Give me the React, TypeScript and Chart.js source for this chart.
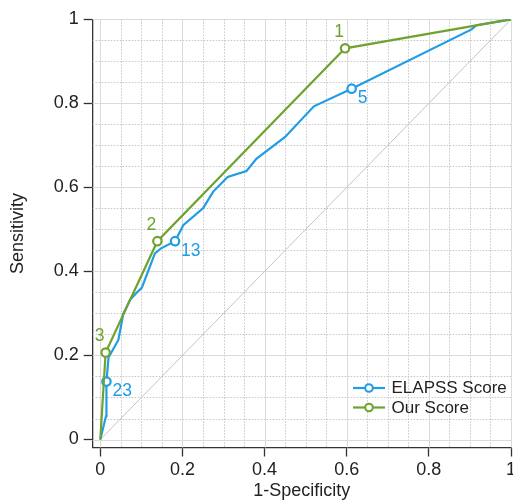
import { useEffect, useRef } from 'react';
import { Chart, registerables } from 'chart.js';

Chart.register(...registerables);

// ---- data ----
const seriesNames = ['ELAPSS Score', 'Our Score'];

const elapssX = [0, 0.014, 0.015, 0.02, 0.044, 0.056, 0.072, 0.089, 0.101, 0.133, 0.148, 0.182, 0.202, 0.25, 0.275, 0.31, 0.356, 0.38, 0.45, 0.52, 0.612, 0.904, 0.916, 1];
const elapssY = [0, 0.056, 0.138, 0.195, 0.237, 0.299, 0.332, 0.35, 0.361, 0.443, 0.455, 0.472, 0.51, 0.55, 0.59, 0.625, 0.639, 0.668, 0.72, 0.793, 0.835, 0.976, 0.986, 1];
const elapssLabels = ['', '', '23', '', '', '', '', '', '', '', '', '13', '', '', '', '', '', '', '', '', '5', '', '', ''];

const ourX = [0, 0.013, 0.139, 0.596, 1];
const ourY = [0, 0.207, 0.472, 0.931, 1];
const ourLabels = ['', '3', '2', '1', ''];

const refX = [0, 1];
const refY = [0, 1];

const tickValues = [0, 0.2, 0.4, 0.6, 0.8, 1];
const tickLabels = ['0', '0.2', '0.4', '0.6', '0.8', '1'];
const majorGrid = [0, 0.2, 0.4, 0.6, 0.8, 1];
const minorGrid = [0.05, 0.1, 0.15, 0.25, 0.3, 0.35, 0.45, 0.5, 0.55, 0.65, 0.7, 0.75, 0.85, 0.9, 0.95];

const BLUE = '#1f9de6';
const GREEN = '#6fa22e';
const FONT = "'Liberation Sans', Arial, Helvetica, sans-serif";

const toPts = (xs: number[], ys: number[]) => xs.map((x, i) => ({ x, y: ys[i] }));

const gridPlugin = {
  id: 'customGrid',
  beforeDatasetsDraw(chart: any) {
    const { ctx, chartArea, scales } = chart;
    const xs = scales.x;
    const ys = scales.y;
    ctx.save();
    ctx.lineWidth = 1;
    ctx.strokeStyle = '#c6c6c6';
    ctx.setLineDash([1.5, 1.5]);
    minorGrid.forEach((v) => {
      const px = Math.round(xs.getPixelForValue(v)) + 0.5;
      ctx.beginPath();
      ctx.moveTo(px, chartArea.top);
      ctx.lineTo(px, chartArea.bottom);
      ctx.stroke();
      const py = Math.round(ys.getPixelForValue(v)) + 0.5;
      ctx.beginPath();
      ctx.moveTo(chartArea.left, py);
      ctx.lineTo(chartArea.right, py);
      ctx.stroke();
    });
    ctx.setLineDash([]);
    ctx.strokeStyle = '#dadada';
    majorGrid.forEach((v) => {
      const px = Math.round(xs.getPixelForValue(v)) + 0.5;
      ctx.beginPath();
      ctx.moveTo(px, chartArea.top);
      ctx.lineTo(px, chartArea.bottom);
      ctx.stroke();
      const py = Math.round(ys.getPixelForValue(v)) + 0.5;
      ctx.beginPath();
      ctx.moveTo(chartArea.left, py);
      ctx.lineTo(chartArea.right, py);
      ctx.stroke();
    });
    ctx.restore();
  },
};

const labelPlugin = {
  id: 'pointLabels',
  afterDatasetsDraw(chart: any) {
    const { ctx } = chart;
    ctx.save();
    ctx.font = `17.5px ${FONT}`;
    ctx.textBaseline = 'middle';
    const metaOur = chart.getDatasetMeta(0);
    metaOur.data.forEach((el: any, i: number) => {
      const t = ourLabels[i];
      if (!t) return;
      ctx.fillStyle = GREEN;
      ctx.textAlign = 'center';
      ctx.fillText(t, el.x - 6, el.y - 16);
    });
    const metaE = chart.getDatasetMeta(1);
    metaE.data.forEach((el: any, i: number) => {
      const t = elapssLabels[i];
      if (!t) return;
      ctx.fillStyle = BLUE;
      ctx.textAlign = 'left';
      ctx.fillText(t, el.x + 6, el.y + 10);
    });
    ctx.restore();
  },
};

const legendPlugin = {
  id: 'customLegend',
  afterDraw(chart: any) {
    const { ctx, chartArea } = chart;
    const colors = [BLUE, GREEN];
    const x0 = chartArea.right - 158;
    const y0 = chartArea.bottom - 59.5;
    ctx.save();
    ctx.font = `17px ${FONT}`;
    ctx.textBaseline = 'middle';
    ctx.textAlign = 'left';
    seriesNames.forEach((name, i) => {
      const y = y0 + i * 19.5;
      ctx.strokeStyle = colors[i];
      ctx.lineWidth = 2.2;
      ctx.beginPath();
      ctx.moveTo(x0, y);
      ctx.lineTo(x0 + 32, y);
      ctx.stroke();
      ctx.beginPath();
      ctx.arc(x0 + 16, y, 3.8, 0, Math.PI * 2);
      ctx.fillStyle = '#ffffff';
      ctx.fill();
      ctx.lineWidth = 2;
      ctx.stroke();
      ctx.fillStyle = '#222222';
      ctx.fillText(name, x0 + 38.5, y + 0.5);
    });
    ctx.restore();
  },
};

export default function App() {
  const ref = useRef<HTMLCanvasElement | null>(null);

  useEffect(() => {
    if (!ref.current) return;
    const setTicks = (scale: any) => {
      scale.ticks = tickValues.map((v) => ({ value: v }));
    };
    const tickCb = (v: any) => {
      const idx = tickValues.findIndex((t) => Math.abs(t - Number(v)) < 1e-9);
      return idx >= 0 ? tickLabels[idx] : '';
    };
    const chart = new Chart(ref.current, {
      type: 'line',
      data: {
        datasets: [
          {
            label: seriesNames[1],
            data: toPts(ourX, ourY),
            borderColor: GREEN,
            backgroundColor: '#ffffff',
            borderWidth: 2.2,
            pointRadius: (c: any) => (ourLabels[c.dataIndex] ? 4.2 : 0),
            pointBorderWidth: 2.2,
            pointBackgroundColor: '#ffffff',
            pointBorderColor: GREEN,
            tension: 0,
            fill: false,
          },
          {
            label: seriesNames[0],
            data: toPts(elapssX, elapssY),
            borderColor: BLUE,
            backgroundColor: '#ffffff',
            borderWidth: 2.2,
            pointRadius: (c: any) => (elapssLabels[c.dataIndex] ? 4.2 : 0),
            pointBorderWidth: 2.2,
            pointBackgroundColor: '#ffffff',
            pointBorderColor: BLUE,
            tension: 0,
            fill: false,
          },
          {
            label: 'reference',
            data: toPts(refX, refY),
            borderColor: '#c4c4c4',
            borderWidth: 1,
            pointRadius: 0,
            tension: 0,
            fill: false,
          },
        ],
      },
      options: {
        responsive: false,
        animation: false,
        layout: { padding: { top: 19.3, right: 2, left: 7.5, bottom: 0 } },
        plugins: {
          legend: { display: false },
          tooltip: { enabled: false },
        },
        scales: {
          x: {
            type: 'linear',
            min: -0.0185,
            max: 1,
            afterBuildTicks: setTicks,
            afterFit: (s: any) => {
              s.height = 56.5;
              s.paddingLeft = 0;
              s.paddingRight = 0;
            },
            ticks: {
              callback: tickCb,
              font: { family: FONT, size: 18 },
              color: '#222222',
              padding: 3,
              maxRotation: 0,
              autoSkip: false,
            },
            grid: {
              drawOnChartArea: false,
              drawTicks: true,
              tickLength: 9,
              tickColor: '#333333',
              tickWidth: 1.3,
            },
            border: { display: true, color: '#333333', width: 1.3 },
            title: {
              display: true,
              text: '1-Specificity',
              font: { family: FONT, size: 18 },
              color: '#222222',
              padding: { top: 0, bottom: 2 },
            },
          },
          y: {
            type: 'linear',
            min: -0.019,
            max: 1,
            afterBuildTicks: setTicks,
            afterFit: (s: any) => {
              s.width = 85.2;
              s.paddingTop = 0;
              s.paddingBottom = 0;
            },
            ticks: {
              callback: tickCb,
              font: { family: FONT, size: 18 },
              color: '#222222',
              padding: 5,
              autoSkip: false,
            },
            grid: {
              drawOnChartArea: false,
              drawTicks: true,
              tickLength: 9,
              tickColor: '#333333',
              tickWidth: 1.3,
            },
            border: { display: true, color: '#333333', width: 1.3 },
            title: {
              display: true,
              text: 'Sensitivity',
              font: { family: FONT, size: 18 },
              color: '#222222',
              padding: { top: 0, bottom: 0 },
            },
          },
        },
      } as any,
      plugins: [gridPlugin, labelPlugin, legendPlugin],
    });
    return () => chart.destroy();
  }, []);

  return (
    <div style={{ position: 'absolute', left: 0, top: 0, width: 513, height: 504, background: '#ffffff' }}>
      <canvas ref={ref} width={513} height={504} />
    </div>
  );
}
